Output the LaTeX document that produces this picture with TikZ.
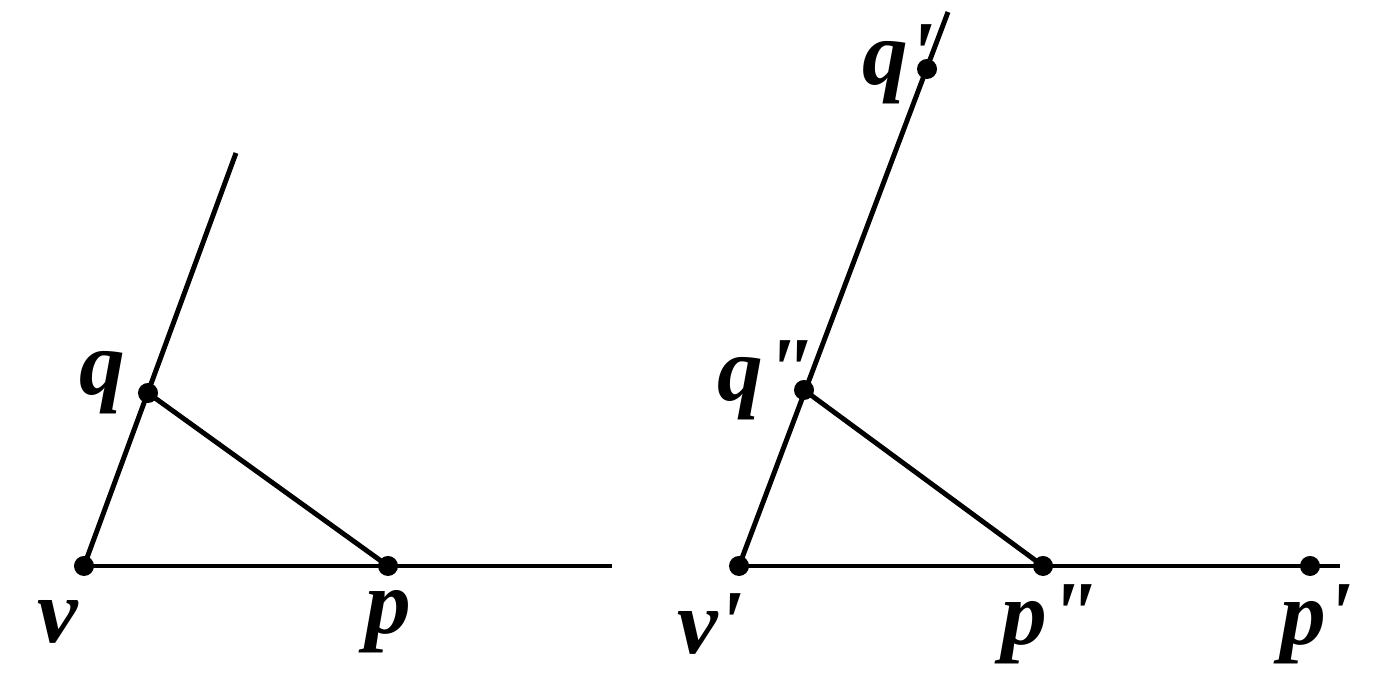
\documentclass[tikz,border=0pt]{standalone}
\usepackage{fontspec}
\setmainfont{Liberation Serif}
\newcommand{\pr}{\textquotesingle}
\newcommand{\ppr}{\textquotedbl}
\begin{document}
\begin{tikzpicture}[x=0.01cm,y=-0.01cm,line width=1.4pt,
  dot/.style={circle,fill=black,inner sep=0pt,minimum size=0.2cm},
  lab/.style={font=\fontsize{26}{30}\selectfont\bfseries\itshape}]
\useasboundingbox (0,0) rectangle (1382,680);
\node[dot] (v) at (84,566) {};
\node[dot] (q) at (148,393) {};
\node[dot] (p) at (388,566) {};
\coordinate (qe) at (236,153);
\coordinate (pe) at (612,566);
\draw (v.center) -- (qe);
\draw (v.center) -- (pe);
\draw (q.center) -- (p.center);
\node[lab] (lq) at (102,383) {q};
\node[lab] (lv) at (58,622) {v};
\node[lab] (lp) at (388,622) {p};
\node[dot] (v2) at (739,566) {};
\node[dot] (q2) at (804,390) {};
\node[dot] (q1) at (927,69) {};
\node[dot] (p2) at (1043,566) {};
\node[dot] (p1) at (1310,566) {};
\coordinate (qe2) at (948,12);
\coordinate (pe2) at (1340,566);
\draw (v2.center) -- (qe2);
\draw (v2.center) -- (pe2);
\draw (q2.center) -- (p2.center);
\node[lab] (lq1) at (898,64) {q\pr};
\node[lab] (lq2) at (766,380) {q\ppr};
\node[lab] (lv2) at (710,624) {v\pr};
\node[lab] (lp2) at (1050,624) {p\ppr};
\node[lab] (lp1) at (1316,624) {p\pr};
\end{tikzpicture}
\end{document}
